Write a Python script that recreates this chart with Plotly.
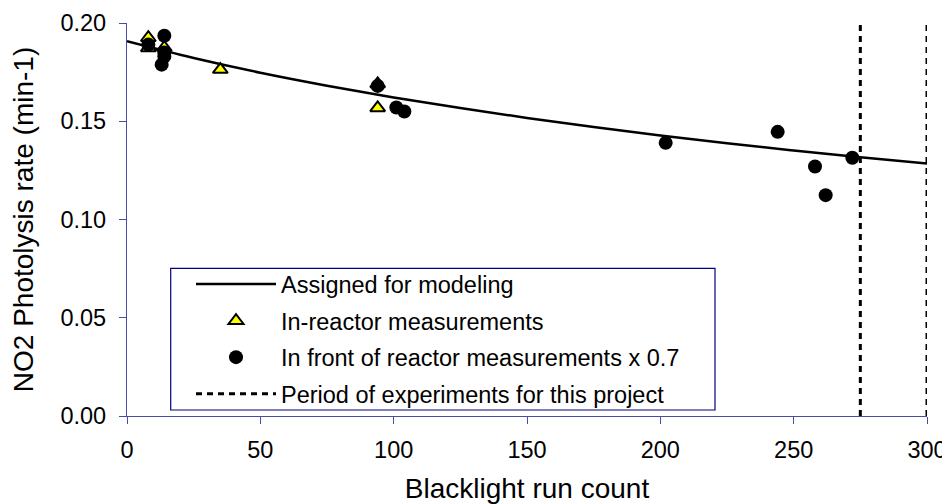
import plotly.graph_objects as go

# Assigned-for-modeling curve
curve_x = [0, 25, 50, 75, 100, 125, 150, 175, 200, 225, 250, 275, 300]
curve_y = [0.1907, 0.1822, 0.1747, 0.1681, 0.1621, 0.1567, 0.1517, 0.1471,
           0.1428, 0.1388, 0.1351, 0.1317, 0.1285]

# In-reactor measurements (triangles)
tri_x = [8, 8, 14, 35, 94, 94]
tri_y = [0.1925, 0.1873, 0.1875, 0.1763, 0.169, 0.1568]

# In front of reactor measurements x 0.7 (circles)
circ_x = [8, 14, 14, 14, 13, 94, 101, 104, 202, 244, 258, 262, 272]
circ_y = [0.189, 0.1935, 0.185, 0.183, 0.1788, 0.168, 0.157, 0.155,
          0.139, 0.1446, 0.127, 0.1124, 0.1314]

# Period of experiments for this project (vertical boundaries)
period_x = [275, 300]
period_y = [0.0, 0.20]

x_ticks = [0, 50, 100, 150, 200, 250, 300]
y_ticks = [0.00, 0.05, 0.10, 0.15, 0.20]

FONT = "Liberation Sans, Arial, sans-serif"
FS = 23.5
AXIS_COLOR = "#4a4aa8"

# the page body has an 8px default margin, so the figure is offset by 8px
OFF = 8
W, H = 950 - OFF, 504 - OFF
ML, MR, MT, MB = 127 - OFF, 23, 23 - OFF, 88
PW, PH = W - ML - MR, H - MT - MB


def px_to_paper_x(sx):
    return (sx - OFF - ML) / PW


def px_to_paper_y(sy):
    return (H - MB - (sy - OFF)) / PH


vx, vy = [], []
for px in period_x:
    vx += [px, px, None]
    vy += [period_y[0], period_y[1], None]

fig = go.Figure()
fig.add_trace(go.Scatter(
    x=curve_x, y=curve_y, mode="lines", name="Assigned for modeling",
    line=dict(color="black", width=2.5, shape="spline"), legendgroup="a"))
fig.add_trace(go.Scatter(
    x=tri_x, y=tri_y, mode="markers", name="In-reactor measurements",
    marker=dict(symbol="triangle-up", size=13, color="#ffff00",
                line=dict(color="black", width=2)), legendgroup="b"))
fig.add_trace(go.Scatter(
    x=circ_x, y=circ_y, mode="markers",
    name="In front of reactor measurements x 0.7",
    marker=dict(symbol="circle", size=14, color="black",
                line=dict(color="black", width=0)), legendgroup="c"))
fig.add_trace(go.Scatter(
    x=vx, y=vy, mode="lines", name="Period of experiments for this project",
    line=dict(color="black", width=3, dash="6px,5px"), legendgroup="d"))

# legend frame
fig.add_shape(type="rect", xref="paper", yref="paper",
              x0=px_to_paper_x(170.7), x1=px_to_paper_x(715),
              y0=px_to_paper_y(410), y1=px_to_paper_y(268.3),
              line=dict(color="#000080", width=1.2), fillcolor="white",
              layer="above")

fig.update_layout(
    width=W, height=H,
    margin=dict(l=ML, r=MR, t=MT, b=MB, autoexpand=False),
    paper_bgcolor="white", plot_bgcolor="white",
    font=dict(family=FONT, size=FS, color="black"),
    showlegend=True,
    legend=dict(
        x=px_to_paper_x(191), y=px_to_paper_y(262.3),
        xanchor="left", yanchor="top",
        borderwidth=0, bgcolor="rgba(0,0,0,0)",
        font=dict(family=FONT, size=FS, color="black"),
        tracegroupgap=3, itemwidth=80,
    ),
    xaxis=dict(
        range=[0, 300], tickvals=x_ticks, ticktext=[str(v) for v in x_ticks],
        showgrid=False, zeroline=False, showline=True, linecolor=AXIS_COLOR,
        linewidth=1.3, ticks="outside", ticklen=7, tickcolor=AXIS_COLOR,
        tickwidth=1.3, automargin=False, ticklabelstandoff=6,
        title=dict(text="Blacklight run count", standoff=18),
    ),
    yaxis=dict(
        range=[0, 0.20], tickvals=y_ticks,
        ticktext=[f"{v:.2f}" for v in y_ticks],
        showgrid=False, zeroline=False, showline=True, linecolor=AXIS_COLOR,
        linewidth=1.3, ticks="outside", ticklen=7, tickcolor=AXIS_COLOR,
        tickwidth=1.3, ticklabelstandoff=8, automargin=False,
        title=dict(text="NO2 Photolysis rate (min-1)", standoff=20),
    ),
)

fig.write_html("out.html")
